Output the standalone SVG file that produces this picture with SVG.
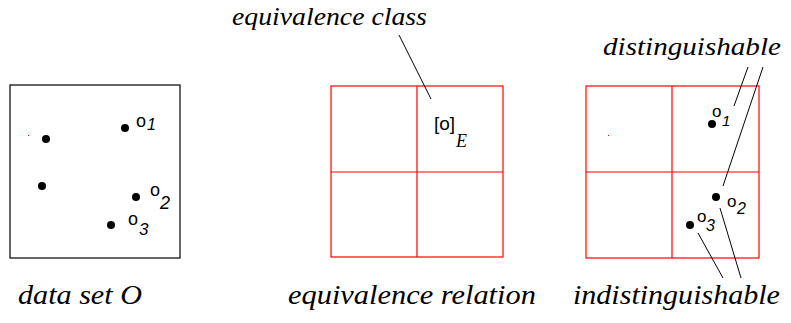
<svg xmlns="http://www.w3.org/2000/svg" width="791" height="323" viewBox="0 0 791 323">
<defs>
<style>
.grid{fill:none;stroke:#f00;stroke-width:1.2}
.dot{fill:#000}
.ln{stroke:#000;stroke-width:1;fill:none}
</style>
</defs>
<rect width="791" height="323" fill="#fff"/>
<g id="dataset">
<text transform="translate(18,304) scale(1.117,1)" font-family="'Liberation Serif', 'Times New Roman', serif" font-style="italic" font-size="27">data set O</text>
<rect x="10" y="85" width="170" height="173" fill="none" stroke="#000" stroke-width="1.2"/>
<rect x="28" y="135" width="1" height="1" fill="#f00"/>
<circle class="dot" cx="125" cy="128" r="4"/>
<circle class="dot" cx="46" cy="139" r="4"/>
<circle class="dot" cx="42" cy="186" r="4"/>
<circle class="dot" cx="136" cy="197" r="4"/>
<circle class="dot" cx="111" cy="225" r="4"/>
<text x="136" y="127" font-family="'Liberation Sans', Arial, sans-serif" font-size="18">o</text>
<text x="150" y="196" font-family="'Liberation Sans', Arial, sans-serif" font-size="18">o</text>
<text x="128" y="225" font-family="'Liberation Sans', Arial, sans-serif" font-size="18">o</text>
<text x="147" y="130" font-family="'Liberation Sans', Arial, sans-serif" font-style="italic" font-size="16">1</text>
<text x="160" y="209" font-family="'Liberation Sans', Arial, sans-serif" font-style="italic" font-size="18">2</text>
<text x="139" y="235" font-family="'Liberation Sans', Arial, sans-serif" font-style="italic" font-size="17">3</text>
</g>
<g id="relation">
<text transform="translate(232,25) scale(1.11,1)" font-family="'Liberation Serif', 'Times New Roman', serif" font-style="italic" font-size="25">equivalence class</text>
<text transform="translate(288,304) scale(1.126,1)" font-family="'Liberation Serif', 'Times New Roman', serif" font-style="italic" font-size="27">equivalence relation</text>
<rect class="grid" x="331" y="86" width="172" height="171"/>
<line class="grid" x1="417" y1="86" x2="417" y2="257"/>
<line class="grid" x1="331" y1="172" x2="503" y2="172"/>
<text x="434" y="130" font-family="'Liberation Sans', Arial, sans-serif" font-size="19">[o]</text>
<text x="456" y="147" font-family="'Liberation Serif', 'Times New Roman', serif" font-style="italic" font-size="18">E</text>
</g>
<g id="classes">
<text transform="translate(603,55) scale(1.12,1)" font-family="'Liberation Serif', 'Times New Roman', serif" font-style="italic" font-size="26">distinguishable</text>
<text transform="translate(573,304) scale(1.113,1)" font-family="'Liberation Serif', 'Times New Roman', serif" font-style="italic" font-size="27">indistinguishable</text>
<rect class="grid" x="586" y="86" width="173" height="172"/>
<line class="grid" x1="672" y1="86" x2="672" y2="258"/>
<line class="grid" x1="586" y1="172" x2="759" y2="172"/>
<rect x="608" y="135" width="1" height="1" fill="#f00"/>
<circle class="dot" cx="712" cy="124" r="4"/>
<circle class="dot" cx="716" cy="197" r="4"/>
<circle class="dot" cx="690" cy="225" r="4"/>
<text x="712" y="117" font-family="'Liberation Sans', Arial, sans-serif" font-size="17">o</text>
<text x="727" y="207" font-family="'Liberation Sans', Arial, sans-serif" font-size="17">o</text>
<text x="697" y="222" font-family="'Liberation Sans', Arial, sans-serif" font-size="17">o</text>
<text x="722" y="126" font-family="'Liberation Sans', Arial, sans-serif" font-style="italic" font-size="15">1</text>
<text x="737" y="214" font-family="'Liberation Sans', Arial, sans-serif" font-style="italic" font-size="16">2</text>
<text x="706" y="231" font-family="'Liberation Sans', Arial, sans-serif" font-style="italic" font-size="16">3</text>
</g>
<g id="connectors">
<line class="ln" x1="399" y1="35" x2="431" y2="99"/>
<line class="ln" x1="748" y1="67" x2="734" y2="106"/>
<line class="ln" x1="763" y1="67" x2="723" y2="186"/>
<line class="ln" x1="698" y1="233" x2="723" y2="278"/>
<line class="ln" x1="720" y1="208" x2="741" y2="278"/>
</g>
</svg>
